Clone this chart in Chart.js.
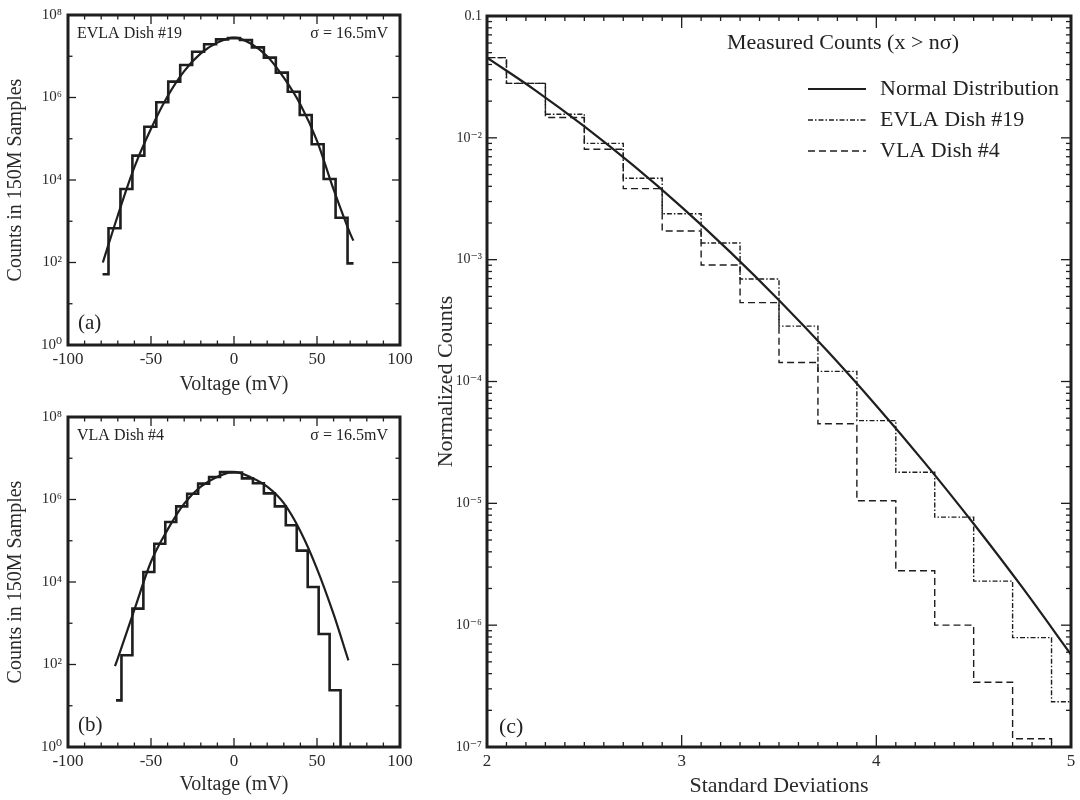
<!DOCTYPE html>
<html><head><meta charset="utf-8">
<script src="https://cdn.jsdelivr.net/npm/chart.js@4.4.1/dist/chart.umd.min.js"></script>
<style>
html,body{margin:0;padding:0;background:#fff;}
body{width:1080px;height:800px;position:relative;overflow:hidden;}
canvas{position:absolute;}
#ca{left:0;top:0;} #cb{left:0;top:400px;} #cc{left:430px;top:0;}
</style></head><body>
<canvas id="ca" width="420" height="400"></canvas>
<canvas id="cb" width="420" height="400"></canvas>
<canvas id="cc" width="650" height="800"></canvas>
<script>
// ---------- Panel (a): EVLA Dish #19 ----------
const voltA   = [-79.2,-72,-64.8,-57.6,-50.4,-43.2,-36,-28.8,-21.6,-14.4,-7.2,0,7.2,14.4,21.6,28.8,36,43.2,50.4,57.6,64.8,72];
const countsA = [52,675,6050,38900,196000,764000,2420000,6140000,12900000,19500000,25700000,27500000,24800000,16400000,9250000,4000000,1380000,377000,73300,10600,1220,95];
const fitVoltA   = [-79,-70,-60,-50,-40,-30,-20,-10,0,10,20,30,40,50,60,70,71.9];
const fitCountsA = [100,1380,20400,174000,1070000,4360000,11700000,21400000,28200000,20400000,10000000,3020000,676000,89100,5890,501,339];

// ---------- Panel (b): VLA Dish #4 ----------
const voltB   = [-71.1,-64.5,-57.9,-51.3,-44.7,-38.1,-31.5,-24.9,-18.3,-11.7,-5.1,1.5,8.1,14.7,21.3,27.9,34.5,41.1,47.7,54.3,60.9,67.5];
const countsB = [13.5,167,2260,17500,84900,285000,682000,1380000,2420000,3510000,4650000,4520000,3260000,2470000,1410000,682000,237000,57500,7570,548,23.7,0.05];
const fitVoltB   = [-71.7,-70,-60,-50,-40,-30,-20,-10,0,10,20,30,40,50,60,68.9];
const fitCountsB = [91,141,2140,30900,186000,794000,2040000,3550000,4680000,3470000,2040000,813000,170000,20900,1660,126];

// ---------- Panel (c): normalized counts beyond n sigma ----------
const sigmaC  = [2.0,2.2,2.4,2.6,2.8,3.0,3.2,3.4,3.6,3.8,4.0,4.2,4.4,4.6,4.8,5.0];
const evlaC   = [0.0455,0.028,0.0156,0.0090,0.00466,0.00238,0.00137,0.000694,0.000285,0.000121,4.77e-5,1.80e-5,7.7e-6,2.3e-6,7.9e-7,2.35e-7];
const vlaC    = [0.0455,0.028,0.0147,0.00805,0.00383,0.00172,0.000904,0.000444,0.000143,4.5e-5,1.05e-5,2.8e-6,1.0e-6,3.4e-7,1.17e-7,5e-8];
const normX   = [2.0,2.25,2.5,2.75,3.0,3.25,3.5,3.75,4.0,4.25,4.5,4.75,5.0];
const normY   = [0.0455,0.02445,0.01242,0.00596,0.0027,0.001154,0.000465,0.000177,6.33e-5,2.14e-5,6.8e-6,2.04e-6,5.73e-7];

// ---------- tick values ----------
const yTicksAB = [1,1e2,1e4,1e6,1e8];
const yMinorAB = [1e1,1e3,1e5,1e7];
const xMajorAB = [-100,-50,0,50,100];
const xMinorAB = [-90,-80,-70,-60,-40,-30,-20,-10,10,20,30,40,60,70,80,90];
const yTicksC  = [1e-7,1e-6,1e-5,1e-4,1e-3,1e-2,1e-1];
const xMajorC  = [2,3,4,5];

const INK = '#1e1e1e';
Chart.defaults.font.family = "'Liberation Serif', 'DejaVu Serif', serif";
Chart.defaults.color = '#2a2a2a';

const SUP = {'0':'⁰','1':'¹','2':'²','3':'³','4':'⁴','5':'⁵','6':'⁶','7':'⁷','8':'⁸','9':'⁹','-':'⁻'};
function powLabel(v){
  const e = Math.round(Math.log10(v));
  if (e === -1) return '0.1';
  return '10' + String(e).split('').map(c => SUP[c]).join('');
}
const pts = (xs, ys) => xs.map((x, i) => ({x, y: ys[i]}));

const minorC = [];
yTicksC.slice(0, -1).forEach(d => { for (let m = 2; m <= 9; m++) minorC.push(d * m); });
const xMinorC = [];
for (let i = 20; i <= 50; i++) if (i % 10) xMinorC.push(i / 10);

const frameTicks = {
  id: 'frameTicks',
  afterDatasetsDraw(chart, args, o) {
    const {ctx, chartArea: a, scales: {x, y}} = chart;
    ctx.save();
    ctx.strokeStyle = INK;
    ctx.lineWidth = 1.3;
    const seg = (x1, y1, x2, y2) => { ctx.beginPath(); ctx.moveTo(x1, y1); ctx.lineTo(x2, y2); ctx.stroke(); };
    const xt = (vals, len) => vals.forEach(v => { const p = x.getPixelForValue(v); seg(p, a.bottom, p, a.bottom - len); seg(p, a.top, p, a.top + len); });
    const yt = (vals, len) => vals.forEach(v => { const p = y.getPixelForValue(v); seg(a.left, p, a.left + len, p); seg(a.right, p, a.right - len, p); });
    xt(o.xMajor, o.xMajLen); xt(o.xMinor, o.xMinLen);
    yt(o.yMajor, o.yMajLen); yt(o.yMinor, o.yMinLen);
    ctx.lineWidth = 3;
    ctx.strokeRect(a.left, a.top, a.right - a.left, a.bottom - a.top);
    ctx.fillStyle = '#222';
    (o.texts || []).forEach(t => {
      ctx.font = t.font; ctx.textAlign = t.align || 'left'; ctx.textBaseline = 'alphabetic';
      ctx.fillText(t.text, a.left + t.dx, t.fromBottom ? a.bottom - t.dy : a.top + t.dy);
    });
    if (o.legend) {
      const L = o.legend;
      ctx.font = L.font; ctx.textAlign = 'left'; ctx.textBaseline = 'middle';
      ctx.fillText(L.title, L.titleX, L.titleY);
      chart.data.datasets.forEach((ds, i) => {
        const yy = L.y0 + i * L.dy;
        ctx.save();
        ctx.lineWidth = ds.borderWidth; ctx.setLineDash(ds.borderDash || []);
        seg(L.lineX0, yy, L.lineX1, yy);
        ctx.restore();
        ctx.fillText(ds.label, L.textX, yy);
      });
    }
    ctx.restore();
  }
};

function panelAB(id, hx, hy, fx, fy, name, letter, padTop, xH) {
  return new Chart(document.getElementById(id), {
    type: 'line',
    data: { datasets: [
      { label: name + ' histogram', data: pts(hx, hy), stepped: 'middle', borderColor: INK, borderWidth: 2.6, pointRadius: 0, fill: false },
      { label: 'Normal fit', data: pts(fx, fy), cubicInterpolationMode: 'monotone', borderColor: INK, borderWidth: 2.2, pointRadius: 0, fill: false }
    ]},
    options: {
      responsive: false, animation: false, devicePixelRatio: 1,
      layout: { padding: { top: padTop, right: 20, left: 0, bottom: 0 } },
      plugins: {
        legend: { display: false }, tooltip: { enabled: false },
        frameTicks: {
          xMajor: xMajorAB, xMinor: xMinorAB, xMajLen: 9, xMinLen: 4.5,
          yMajor: yTicksAB, yMinor: yMinorAB, yMajLen: 8, yMinLen: 4.5,
          texts: [
            { text: name, font: "16px 'Liberation Serif', serif", dx: 9, dy: 23 },
            { text: 'σ = 16.5mV', font: "16px 'Liberation Serif', serif", dx: 320, dy: 23, align: 'right' },
            { text: letter, font: "21px 'Liberation Serif', serif", dx: 10, dy: 16, fromBottom: true }
          ]
        }
      },
      scales: {
        x: {
          type: 'linear', min: -100, max: 100,
          grid: { display: false, drawTicks: false }, border: { display: false },
          ticks: { stepSize: 50, padding: 4, font: { size: 17 }, maxRotation: 0, callback: v => String(v) },
          title: { display: true, text: 'Voltage (mV)', font: { size: 20 }, padding: { top: 0, bottom: 3 } },
          afterFit: s => { s.height = xH; }
        },
        y: {
          type: 'logarithmic', min: 1, max: 1e8,
          grid: { display: false, drawTicks: false }, border: { display: false },
          afterBuildTicks: s => { s.ticks = yTicksAB.map(v => ({ value: v })); },
          ticks: { padding: 6, font: { size: 15 }, callback: v => powLabel(v) },
          title: { display: true, text: 'Counts in 150M Samples', font: { size: 20 }, padding: { top: 4, bottom: 0 } },
          afterFit: s => { s.width = 68; }
        }
      }
    },
    plugins: [frameTicks]
  });
}

panelAB('ca', voltA, countsA, fitVoltA, fitCountsA, 'EVLA Dish #19', '(a)', 15, 55);
panelAB('cb', voltB, countsB, fitVoltB, fitCountsB, 'VLA Dish #4', '(b)', 17, 53);

new Chart(document.getElementById('cc'), {
  type: 'line',
  data: { datasets: [
    { label: 'Normal Distribution', data: pts(normX, normY), cubicInterpolationMode: 'monotone', borderColor: INK, borderWidth: 2.2, pointRadius: 0, fill: false },
    { label: 'EVLA Dish #19', data: pts(sigmaC, evlaC), stepped: 'middle', borderColor: INK, borderWidth: 1.4, borderDash: [5, 2, 1.5, 2], pointRadius: 0, fill: false },
    { label: 'VLA Dish #4', data: pts(sigmaC, vlaC), stepped: 'middle', borderColor: INK, borderWidth: 1.4, borderDash: [7, 4], pointRadius: 0, fill: false }
  ]},
  options: {
    responsive: false, animation: false, devicePixelRatio: 1,
    layout: { padding: { top: 16, right: 9, left: 0, bottom: 0 } },
    plugins: {
      legend: { display: false }, tooltip: { enabled: false },
      frameTicks: {
        xMajor: xMajorC, xMinor: xMinorC, xMajLen: 12, xMinLen: 5,
        yMajor: yTicksC, yMinor: minorC, yMajLen: 10, yMinLen: 5,
        texts: [ { text: '(c)', font: "22px 'Liberation Serif', serif", dx: 12, dy: 14, fromBottom: true } ],
        legend: { font: "22px 'Liberation Serif', serif", title: 'Measured Counts (x > nσ)', titleX: 297, titleY: 43,
                  lineX0: 378, lineX1: 436, textX: 450, y0: 89, dy: 31 }
      }
    },
    scales: {
      x: {
        type: 'linear', min: 2, max: 5,
        grid: { display: false, drawTicks: false }, border: { display: false },
        ticks: { stepSize: 1, padding: 4, font: { size: 17 }, maxRotation: 0, callback: v => String(v) },
        title: { display: true, text: 'Standard Deviations', font: { size: 22 }, padding: { top: 0, bottom: 1 } },
        afterFit: s => { s.height = 53; }
      },
      y: {
        type: 'logarithmic', min: 1e-7, max: 0.1,
        grid: { display: false, drawTicks: false }, border: { display: false },
        afterBuildTicks: s => { s.ticks = yTicksC.map(v => ({ value: v })); },
        ticks: { padding: 5, font: { size: 14 }, callback: v => powLabel(v) },
        title: { display: true, text: 'Normalized Counts', font: { size: 22 }, padding: { top: 3, bottom: 0 } },
        afterFit: s => { s.width = 57; }
      }
    }
  },
  plugins: [frameTicks]
});
</script>
</body></html>
